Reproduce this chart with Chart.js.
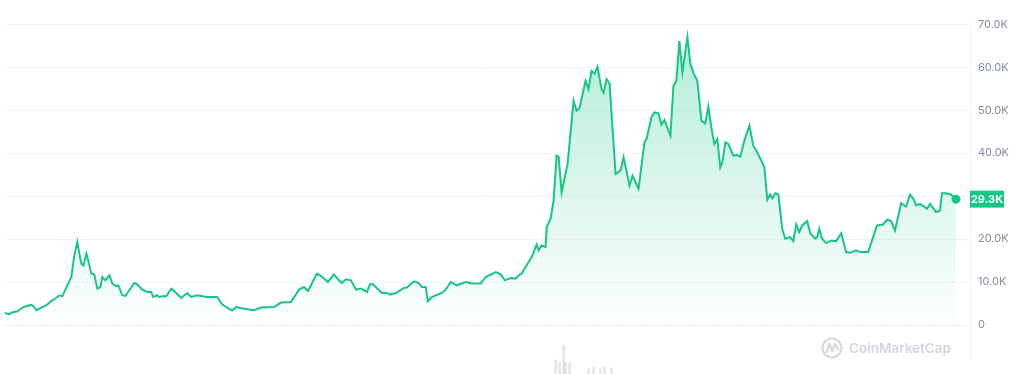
<!DOCTYPE html>
<html>
<head>
<meta charset="utf-8">
<script src="https://cdn.jsdelivr.net/npm/chart.js@4.4.0/dist/chart.umd.min.js"></script>
<style>
  html, body { margin: 0; padding: 0; background: #fff; }
  #wrap { width: 1024px; height: 374px; }
</style>
</head>
<body>
<div id="wrap"><canvas id="myChart" width="1024" height="374"></canvas></div>
<script>
// BTC price (decimal year -> USD)
const years = [
  2017.500, 2017.532, 2017.551, 2017.583, 2017.614, 2017.640, 2017.671, 2017.684, 2017.703, 2017.735,
  2017.767, 2017.798, 2017.817, 2017.849, 2017.868, 2017.900, 2017.925, 2017.944, 2017.963, 2017.976,
  2017.989, 2018.002, 2018.021, 2018.040, 2018.052, 2018.071, 2018.090, 2018.110, 2018.122, 2018.141,
  2018.167, 2018.186, 2018.211, 2018.224, 2018.249, 2018.268, 2018.294, 2018.325, 2018.344, 2018.376,
  2018.408, 2018.433, 2018.446, 2018.471, 2018.484, 2018.503, 2018.529, 2018.560, 2018.579, 2018.624,
  2018.662, 2018.687, 2018.725, 2018.783, 2018.852, 2018.884, 2018.935, 2018.948, 2018.973, 2019.005,
  2019.087, 2019.132, 2019.214, 2019.259, 2019.322, 2019.373, 2019.405, 2019.430, 2019.487, 2019.513,
  2019.557, 2019.595, 2019.627, 2019.646, 2019.671, 2019.703, 2019.735, 2019.767, 2019.805, 2019.824,
  2019.843, 2019.900, 2019.932, 2019.951, 2019.989, 2020.040, 2020.059, 2020.103, 2020.135, 2020.154,
  2020.179, 2020.192, 2020.217, 2020.281, 2020.306, 2020.338, 2020.376, 2020.433, 2020.471, 2020.529,
  2020.560, 2020.624, 2020.656, 2020.681, 2020.719, 2020.751, 2020.770, 2020.789, 2020.814, 2020.852,
  2020.884, 2020.897, 2020.916, 2020.941, 2020.948, 2020.973, 2020.992, 2021.011, 2021.024, 2021.043,
  2021.081, 2021.119, 2021.138, 2021.157, 2021.195, 2021.214, 2021.233, 2021.252, 2021.271, 2021.297,
  2021.310, 2021.329, 2021.348, 2021.386, 2021.417, 2021.437, 2021.475, 2021.494, 2021.532, 2021.570,
  2021.583, 2021.614, 2021.633, 2021.659, 2021.678, 2021.697, 2021.735, 2021.754, 2021.773, 2021.792,
  2021.811, 2021.843, 2021.862, 2021.881, 2021.906, 2021.932, 2021.957, 2021.976, 2021.995, 2022.014,
  2022.033, 2022.052, 2022.065, 2022.084, 2022.103, 2022.135, 2022.154, 2022.179, 2022.205, 2022.237,
  2022.262, 2022.287, 2022.313, 2022.332, 2022.351, 2022.370, 2022.383, 2022.402, 2022.421, 2022.446,
  2022.465, 2022.497, 2022.516, 2022.535, 2022.554, 2022.573, 2022.605, 2022.624, 2022.656, 2022.668,
  2022.681, 2022.700, 2022.725, 2022.757, 2022.789, 2022.821, 2022.852, 2022.878, 2022.916, 2022.941,
  2022.992, 2023.024, 2023.049, 2023.087, 2023.113, 2023.138, 2023.163, 2023.202, 2023.233, 2023.259,
  2023.284, 2023.297, 2023.322, 2023.367, 2023.386, 2023.424, 2023.449, 2023.462, 2023.487, 2023.519,
  2023.551
];
const prices = [
  2810, 2510, 2970, 3200, 4060, 4430, 4670, 4370, 3440, 4060,
  4600, 5600, 5990, 6920, 6690, 9240, 11170, 16210, 19290, 16600,
  14280, 13880, 16600, 13880, 11960, 11790, 8470, 8850, 11170, 10400,
  11560, 9640, 9010, 9240, 6920, 6760, 8080, 9770, 9470, 8240,
  7690, 7690, 6520, 6920, 6520, 6690, 6690, 8470, 7920, 6290,
  7450, 6520, 6920, 6520, 6520, 4830, 3600, 3370, 4200, 3900,
  3440, 4060, 4200, 5220, 5360, 8240, 8850, 7920, 11960, 11400,
  10010, 11790, 10400, 9770, 10630, 10400, 8240, 8470, 7690, 9470,
  9470, 7450, 7450, 7080, 7450, 8610, 8710, 10170, 9770, 8850,
  8850, 5530, 6520, 7450, 8240, 10010, 9240, 10010, 9640, 9640,
  11170, 12330, 11790, 10400, 10940, 10800, 11560, 11960, 13490, 15740,
  18760, 17370, 18530, 18130, 22780, 24730, 28980, 39420, 39190, 30900,
  37500, 52190, 49870, 50500, 56840, 54910, 59160, 58530, 60090, 54910,
  54120, 57230, 56210, 35180, 35940, 39030, 32460, 34780, 31690, 42510,
  43300, 48320, 49480, 49250, 46620, 47710, 44070, 55680, 56840, 66120,
  58760, 67050, 60720, 58700, 56840, 47550, 46920, 50800, 46000, 42140,
  43300, 36710, 37870, 42510, 42140, 39420, 39590, 39190, 42910, 46390,
  41750, 40190, 38260, 36710, 29140, 30370, 29510, 30670, 30370, 22410,
  20080, 20450, 19530, 23400, 21620, 23170, 24170, 21380, 20080, 20450,
  22410, 20080, 19060, 19620, 19530, 21380, 16970, 16830, 17370, 16970,
  16970, 20450, 23170, 23400, 24490, 24170, 22010, 28350, 27580, 30370,
  29140, 27810, 28210, 27050, 28210, 26260, 26650, 30670, 30670, 30370,
  29300
];

// faint volume bars under the chart
const volYears = [2021.005, 2021.030, 2021.056, 2021.068, 2021.094, 2021.214, 2021.246, 2021.290, 2021.316, 2021.360];
const volumes = [140, 110, 290, 120, 110, 50, 70, 50, 70, 60];

const yTicks = [0, 10000, 20000, 30000, 40000, 50000, 60000, 70000];
const lastPrice = prices[prices.length - 1];
const lastLabel = '29.3K';

const verde = '#16c784';

function fmtK(v) {
  if (v === 0) return '0';
  return (v / 1000).toFixed(1) + 'K';
}

const pricePoints = years.map((x, i) => ({ x: x, y: prices[i] }));
const volPoints = volYears.map((x, i) => ({ x: x, y: volumes[i] }));

const extras = {
  id: 'extras',
  afterDraw(chart) {
    const ctx = chart.ctx;
    const area = chart.chartArea;
    const y = chart.scales.y;

    // dotted zero line
    const y0 = Math.round(y.getPixelForValue(0)) + 0.5;
    ctx.save();
    ctx.strokeStyle = '#c8cdd5';
    ctx.lineWidth = 1;
    ctx.setLineDash([1, 2]);
    ctx.beginPath();
    ctx.moveTo(area.left, y0);
    ctx.lineTo(area.right - 3, y0);
    ctx.stroke();
    ctx.setLineDash([]);

    // current price tag
    const yp = y.getPixelForValue(lastPrice);
    ctx.fillStyle = verde;
    ctx.fillRect(area.right, yp - 8.5, 34, 17);
    ctx.fillStyle = '#fff';
    ctx.font = 'bold 11px Inter, "Open Sans", sans-serif';
    ctx.textAlign = 'center';
    ctx.textBaseline = 'middle';
    ctx.fillText(lastLabel, area.right + 17, yp + 0.5);

    // watermark
    ctx.strokeStyle = '#d6dae0';
    ctx.lineWidth = 2.2;
    ctx.beginPath();
    ctx.arc(832, 348, 9.5, 0, Math.PI * 2);
    ctx.stroke();
    ctx.lineJoin = 'round';
    ctx.beginPath();
    ctx.moveTo(826, 353);
    ctx.lineTo(829.5, 344);
    ctx.lineTo(832, 351);
    ctx.lineTo(835, 344);
    ctx.lineTo(838.5, 350);
    ctx.stroke();
    ctx.fillStyle = '#d3d7dd';
    ctx.font = '600 13.5px Inter, "Open Sans", sans-serif';
    ctx.textAlign = 'left';
    ctx.fillText('CoinMarketCap', 849, 349);
    ctx.restore();
  }
};

const ctx = document.getElementById('myChart').getContext('2d');
const chart = new Chart(ctx, {
  data: {
    datasets: [
      {
        type: 'line',
        data: pricePoints,
        borderColor: verde,
        borderWidth: 2,
        tension: 0,
        fill: 'origin',
        backgroundColor: (c) => {
          const a = c.chart.chartArea;
          if (!a) return 'rgba(22,199,132,0.2)';
          const y0 = c.chart.scales.y.getPixelForValue(0);
          const g = c.chart.ctx.createLinearGradient(0, a.top, 0, y0);
          g.addColorStop(0, 'rgba(22,199,132,0.34)');
          g.addColorStop(0.55, 'rgba(22,199,132,0.15)');
          g.addColorStop(1, 'rgba(22,199,132,0.01)');
          return g;
        },
        pointRadius: (c) => c.dataIndex === prices.length - 1 ? 4.5 : 0,
        pointBackgroundColor: verde,
        pointBorderWidth: 0,
        yAxisID: 'y',
        order: 1
      },
      {
        type: 'bar',
        data: volPoints,
        backgroundColor: 'rgba(185,190,200,0.4)',
        barThickness: 2,
        clip: false,
        yAxisID: 'yv',
        order: 2
      }
    ]
  },
  options: {
    responsive: false,
    animation: false,
    layout: { padding: { top: 23, left: 0, right: 0, bottom: 0 } },
    plugins: {
      legend: { display: false },
      tooltip: { enabled: false }
    },
    scales: {
      x: {
        type: 'linear',
        min: 2017.5,
        max: 2023.64,
        offset: false,
        display: false
      },
      y: {
        position: 'right',
        min: -8010,
        max: 70300,
        afterBuildTicks: (s) => { s.ticks = yTicks.map(v => ({ value: v })); },
        afterFit: (s) => { s.width = 54; },
        ticks: {
          padding: 8,
          color: '#858ca2',
          font: { family: 'Inter, "Open Sans", sans-serif', size: 11 },
          callback: (v) => Math.abs(v - lastPrice) < 3000 ? '' : fmtK(v)
        },
        grid: {
          drawTicks: false,
          color: (c) => c.tick && c.tick.value === 0 ? 'rgba(0,0,0,0)' : '#f3f4f6'
        },
        border: { display: true, color: '#f0f1f4' }
      },
      yv: {
        display: false,
        min: 147,
        max: 3520
      }
    }
  },
  plugins: [extras]
});
</script>
</body>
</html>
